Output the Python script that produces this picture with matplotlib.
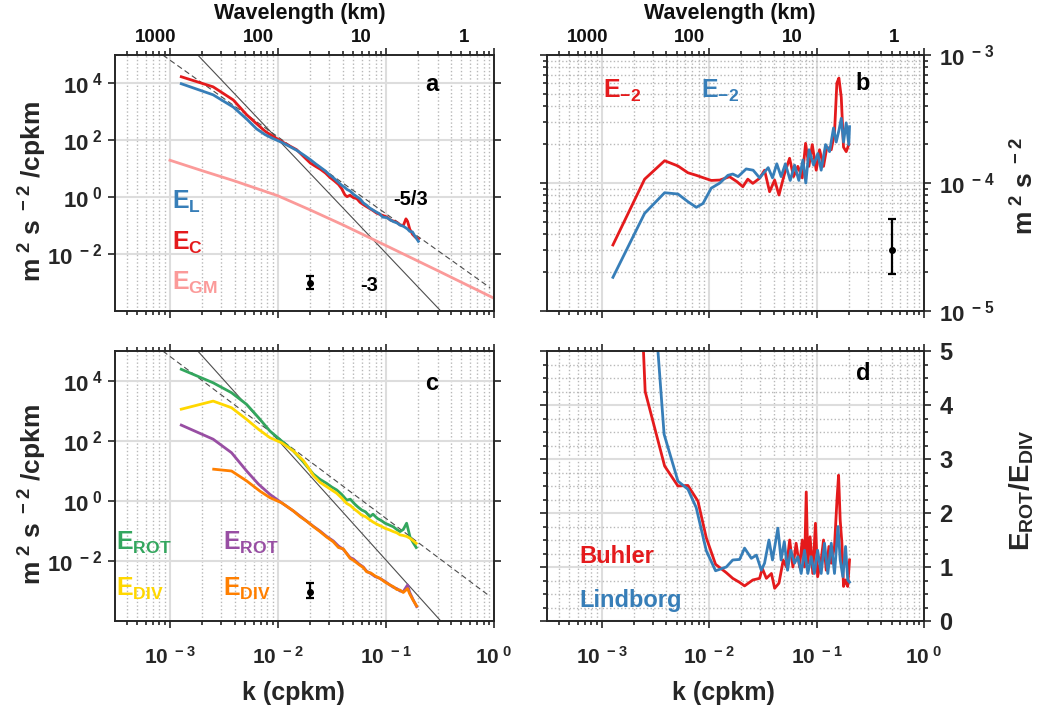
import numpy as np
import matplotlib
matplotlib.use('Agg')
import matplotlib.pyplot as plt
from matplotlib.ticker import FixedLocator, LogLocator, MultipleLocator, NullFormatter, NullLocator, FuncFormatter
from matplotlib.transforms import blended_transform_factory, offset_copy

plt.rcParams['font.family'] = ['Liberation Sans', 'DejaVu Sans']
plt.rcParams['font.weight'] = 'bold'
plt.rcParams['mathtext.fontset'] = 'dejavusans'
plt.rcParams['mathtext.default'] = 'regular'

RED = '#e41a1c'
BLUE = '#377eb8'
PINK = '#fb9a99'
GREEN = '#33a65e'
YELLOW = '#ffd700'
PURPLE = '#984ea3'
ORANGE = '#ff7f00'
REFC = '#4d4d4d'

# ---- panel a: spectra, log10 k (cpkm) and log10 E (m^2 s^-2 / cpkm) ----
a_logk = [-2.895, -2.60, -2.414, -2.29, -2.197, -2.119, -2.05, -1.966, -1.90, -1.827,
          -1.76, -1.70, -1.65, -1.61, -1.56, -1.52, -1.48, -1.44, -1.41, -1.38,
          -1.36, -1.333, -1.30, -1.27, -1.24, -1.21, -1.18, -1.15, -1.12, -1.09,
          -1.06, -1.03, -0.99, -0.96, -0.93, -0.90, -0.87, -0.84, -0.815, -0.80,
          -0.78, -0.755, -0.73, -0.70]
ec_log = [4.235, 3.88, 3.42, 2.90, 2.58, 2.32, 2.15, 1.96, 1.82, 1.67,
          1.42, 1.20, 1.08, 0.99, 0.85, 0.70, 0.58, 0.45, 0.30, 0.08,
          0.02, 0.07, -0.02, -0.05, -0.18, -0.26, -0.33, -0.40, -0.47, -0.55,
          -0.60, -0.64, -0.70, -0.80, -0.84, -0.88, -0.97, -1.00, -0.76, -0.85,
          -1.12, -1.30, -1.40, -1.47]
el_log = [3.99, 3.60, 3.17, 2.75, 2.40, 2.20, 2.07, 1.93, 1.80, 1.65,
          1.48, 1.32, 1.17, 1.06, 0.92, 0.78, 0.66, 0.52, 0.42, 0.34,
          0.27, 0.22, 0.10, 0.02, -0.06, -0.20, -0.28, -0.38, -0.45, -0.52,
          -0.58, -0.70, -0.72, -0.80, -0.86, -0.90, -0.98, -1.02, -1.08, -1.12,
          -1.20, -1.22, -1.38, -1.55]
gm_logk = [-3.0, -2.7, -2.4, -2.0, -1.7, -1.4, -1.0, -0.5, 0.01]
gm_log = [1.30, 0.93, 0.57, 0.05, -0.45, -0.97, -1.70, -2.62, -3.57]

# reference power laws as drawn (slope in log-log, anchor log10 E at k = 1e-2)
dash_slope, dash_anchor, dash_krange = -2.7, 2.12, (8.6e-4, 0.92)
solid_slope, solid_anchor = -4.0, 2.03

# ---- panel c ----
c_logk = [-2.895, -2.60, -2.43, -2.29, -2.18, -2.074, -1.966, -1.858, -1.765, -1.72,
          -1.673, -1.61, -1.55, -1.50, -1.457, -1.41, -1.364, -1.33, -1.29, -1.26,
          -1.225, -1.19, -1.148, -1.12, -1.08, -1.04, -1.009, -0.97, -0.932, -0.90,
          -0.87, -0.84, -0.809, -0.778, -0.75, -0.72]
rot_log = [4.39, 3.94, 3.61, 3.22, 2.78, 2.33, 2.0, 1.67, 1.30, 1.10,
           0.90, 0.72, 0.59, 0.46, 0.37, 0.22, 0.03, 0.06, -0.10, -0.20,
           -0.30, -0.36, -0.52, -0.44, -0.58, -0.66, -0.74, -0.80, -0.86, -0.95,
           -1.02, -0.95, -0.74, -1.19, -1.38, -1.55]
div_log = [3.06, 3.33, 3.11, 2.72, 2.39, 2.11, 1.94, 1.67, 1.35, 1.12,
           0.85, 0.62, 0.48, 0.36, 0.26, 0.10, -0.08, -0.15, -0.28, -0.36,
           -0.47, -0.52, -0.63, -0.70, -0.78, -0.85, -0.91, -0.96, -1.02, -1.06,
           -1.13, -1.15, -1.18, -1.24, -1.32, -1.41]
rot2_logk = [-2.895, -2.60, -2.43, -2.29, -2.18, -2.074, -1.966, -1.858, -1.796, -1.735,
             -1.67, -1.611, -1.55, -1.488, -1.44, -1.395, -1.333, -1.30, -1.25, -1.21,
             -1.179, -1.14, -1.10, -1.056, -1.01, -0.963, -0.93, -0.90, -0.87, -0.84,
             -0.80, -0.78, -0.75, -0.716]
rot2_log = [2.53, 2.06, 1.61, 1.0, 0.56, 0.22, -0.06, -0.33, -0.50, -0.67,
            -0.85, -1.0, -1.18, -1.33, -1.50, -1.61, -1.88, -1.94, -2.10, -2.20,
            -2.34, -2.42, -2.52, -2.58, -2.68, -2.80, -2.88, -2.92, -3.0, -3.02,
            -2.80, -3.05, -3.28, -3.52]
div2_logk = [-2.595, -2.43, -2.29, -2.167, -2.074, -1.966, -1.858, -1.796, -1.735, -1.67,
             -1.611, -1.55, -1.488, -1.44, -1.395, -1.333, -1.30, -1.25, -1.21, -1.179,
             -1.14, -1.10, -1.056, -1.01, -0.963, -0.93, -0.90, -0.87, -0.84, -0.80,
             -0.78, -0.75, -0.716]
div2_log = [1.06, 1.0, 0.67, 0.33, 0.11, -0.06, -0.33, -0.52, -0.67, -0.86,
            -1.02, -1.20, -1.36, -1.55, -1.60, -1.91, -1.98, -2.12, -2.22, -2.36,
            -2.40, -2.50, -2.58, -2.70, -2.80, -2.86, -2.95, -2.97, -3.05, -2.92,
            -3.10, -3.30, -3.50]

# ---- panel b: compensated spectra, log10 (m^2 s^-2) ----
bc_logk = [-2.895, -2.60, -2.414, -2.29, -2.197, -2.119, -2.05, -1.98, -1.90, -1.81,
           -1.74, -1.686, -1.64, -1.593, -1.53, -1.484, -1.437, -1.39, -1.35, -1.297,
           -1.251, -1.214, -1.174, -1.133, -1.102, -1.071, -1.04, -1.003, -0.972, -0.935,
           -0.904, -0.863, -0.833, -0.811, -0.792, -0.77, -0.749, -0.724, -0.70]
bc_log = [-4.484, -3.97, -3.826, -3.867, -3.92, -3.94, -3.96, -3.98, -3.977, -3.951,
          -3.99, -4.029, -3.97, -4.003, -3.963, -3.90, -4.068, -3.977, -4.094, -3.924,
          -3.807, -3.95, -3.87, -3.96, -3.69, -3.87, -3.70, -3.90, -3.74, -3.87,
          -3.72, -3.74, -3.61, -3.22, -3.18, -3.33, -3.72, -3.755, -3.70]
bl_logk = [-2.895, -2.60, -2.414, -2.29, -2.197, -2.119, -2.057, -1.98, -1.90, -1.825,
           -1.78, -1.73, -1.655, -1.59, -1.53, -1.45, -1.41, -1.37, -1.33, -1.29,
           -1.245, -1.205, -1.165, -1.127, -1.10, -1.07, -1.028, -0.988, -0.957, -0.916,
           -0.879, -0.842, -0.817, -0.792, -0.77, -0.749, -0.724, -0.70, -0.693]
bl_log = [-4.737, -4.237, -4.076, -4.086, -4.146, -4.19, -4.16, -4.04, -4.0, -3.94,
          -3.93, -3.95, -3.89, -3.90, -3.96, -3.88, -3.96, -3.85, -3.95, -3.85,
          -3.98, -3.86, -3.98, -3.82, -4.0, -3.74, -3.86, -3.77, -3.90, -3.70,
          -3.755, -3.57, -3.68, -3.59, -3.495, -3.68, -3.53, -3.70, -3.56]

# ---- panel d: E_ROT / E_DIV ----
dbu_logk = [-2.895, -2.595, -2.414, -2.29, -2.197, -2.104, -2.026, -1.94, -1.84, -1.78,
            -1.72, -1.67, -1.593, -1.53, -1.505, -1.467, -1.42, -1.39, -1.35, -1.31,
            -1.28, -1.25, -1.22, -1.19, -1.158, -1.133, -1.112, -1.096, -1.081, -1.06,
            -1.035, -1.01, -0.99, -0.957, -0.935, -0.91, -0.885, -0.863, -0.833, -0.81,
            -0.795, -0.78, -0.764, -0.749, -0.73, -0.71, -0.693]
dbu_ratio = [18.4, 4.25, 2.87, 2.50, 2.51, 2.22, 1.54, 1.05, 0.895, 0.79,
             0.72, 0.65, 0.76, 0.79, 0.975, 0.79, 0.88, 0.605, 0.70, 1.13,
             1.0, 1.50, 1.0, 1.44, 1.0, 1.5, 1.0, 2.39, 1.07, 1.56,
             0.88, 1.81, 0.82, 1.13, 1.50, 0.94, 1.38, 1.07, 1.38, 2.24,
             2.70, 1.87, 1.44, 0.64, 0.76, 0.64, 1.13]
dli_logk = [-2.895, -2.595, -2.419, -2.29, -2.197, -2.12, -2.026, -1.94, -1.84, -1.78,
            -1.716, -1.67, -1.607, -1.56, -1.514, -1.484, -1.443, -1.41, -1.36, -1.33,
            -1.30, -1.27, -1.24, -1.205, -1.174, -1.143, -1.112, -1.081, -1.05, -1.02,
            -0.99, -0.957, -0.926, -0.895, -0.863, -0.833, -0.80, -0.78, -0.755, -0.73,
            -0.71, -0.693]
dli_ratio = [20.0, 8.2, 3.46, 2.59, 2.44, 2.10, 1.30, 0.93, 1.0, 1.13,
             1.14, 1.35, 1.16, 1.22, 0.94, 1.07, 1.50, 1.13, 1.72, 1.13,
             1.47, 0.94, 1.31, 1.07, 1.19, 0.88, 1.31, 0.88, 1.19, 0.88,
             1.31, 0.88, 1.44, 0.88, 1.44, 0.88, 1.75, 1.13, 0.82, 1.38,
             0.76, 0.72]

# error bars: k, centre, low, high
err_a = (0.02, 1.0e-3, 10**-3.24, 10**-2.78)
err_c = (0.02, 10**-3.02, 10**-3.24, 10**-2.74)
err_b = (0.5, 3.0e-5, 1.93e-5, 5.2e-5)

wavelengths = [1000, 100, 10, 1]

for x, y in [(a_logk, ec_log), (a_logk, el_log), (gm_logk, gm_log), (c_logk, rot_log),
             (c_logk, div_log), (rot2_logk, rot2_log), (div2_logk, div2_log),
             (bc_logk, bc_log), (bl_logk, bl_log), (dbu_logk, dbu_ratio), (dli_logk, dli_ratio)]:
    assert len(x) == len(y)


def p10(v):
    return 10.0 ** np.asarray(v)


def pow10(v, pos):
    return r'10$^{\;%d}$' % int(round(np.log10(v)))


def base_style(ax):
    ax.set_xscale('log')
    ax.set_xlim(3.1e-4, 1)
    ax.xaxis.set_major_locator(FixedLocator([1e-3, 1e-2, 1e-1, 1]))
    ax.xaxis.set_minor_locator(LogLocator(base=10, subs=np.arange(2, 10), numticks=20))
    ax.xaxis.set_minor_formatter(NullFormatter())
    ax.xaxis.set_major_formatter(FuncFormatter(pow10))
    ax.tick_params(which='both', direction='out', top=True, bottom=True, left=True, right=True,
                   color='#262626', width=1.2, labelsize=16, labelcolor='#262626')
    ax.tick_params(which='major', length=5)
    ax.tick_params(which='minor', length=3)
    ax.tick_params(axis='x', pad=13, labelsize=15)
    ax.grid(True, which='major', color='#dddddd', lw=1.5)
    ax.grid(True, which='minor', axis='x', color='#b8b8b8', ls=':', lw=1.0)
    ax.set_axisbelow(True)
    for s in ax.spines.values():
        s.set_color('#262626')
        s.set_linewidth(1.4)


def spectrum_style(ax):
    base_style(ax)
    ax.set_yscale('log')
    ax.set_ylim(1e-4, 1e5)
    ax.yaxis.set_major_locator(FixedLocator([1e-2, 1, 1e2, 1e4]))
    ax.yaxis.set_minor_locator(NullLocator())
    ax.yaxis.set_major_formatter(FuncFormatter(pow10))
    ax.tick_params(axis='y', pad=4)


def wavelength_labels(ax):
    tr = blended_transform_factory(ax.transData, ax.transAxes)
    tr = offset_copy(tr, fig=fig, x=-35, y=9, units='dots')
    for lam in wavelengths:
        ax.text(1.0 / lam, 1.0, str(lam), transform=tr, ha='left', va='bottom',
                fontsize=13.5, color='#111111')


def ref_lines(ax):
    kk = np.array(dash_krange)
    ax.plot(kk, p10(dash_anchor + dash_slope * (np.log10(kk) + 2)), ls=(0, (5, 3)),
            color=REFC, lw=0.8)
    ks = np.array([1e-3, 1.0])
    ax.plot(ks, p10(solid_anchor + solid_slope * (np.log10(ks) + 2)), color=REFC, lw=0.8)


def errbar(ax, e):
    k, c, lo, hi = e
    ax.errorbar([k], [c], yerr=[[c - lo], [hi - c]], fmt='o', color='black', ms=4,
                capsize=3, elinewidth=1.6, capthick=1.6)


fig = plt.figure(figsize=(10.45, 7.14), dpi=100)
W, H = 1045.0, 714.0


def axes_px(x0, y0, x1, y1):
    return fig.add_axes([x0 / W, 1 - y1 / H, (x1 - x0) / W, (y1 - y0) / H])


axA = axes_px(115, 55, 494, 311)
axB = axes_px(547, 55, 924, 311)
axC = axes_px(115, 351, 494, 621)
axD = axes_px(547, 351, 924, 621)

# ---- a ----
spectrum_style(axA)
axA.tick_params(labelbottom=False)
ref_lines(axA)
axA.plot(p10(gm_logk), p10(gm_log), color=PINK, lw=2)
axA.plot(p10(a_logk), p10(ec_log), color=RED, lw=2)
axA.plot(p10(a_logk), p10(el_log), color=BLUE, lw=2)
errbar(axA, err_a)
wavelength_labels(axA)
axA.text(0.267, 10**3.96, 'a', fontsize=17, ha='center', va='center')
axA.text(0.116, 10**-0.09, '-5/3', fontsize=14.5, ha='left', va='center')
axA.text(0.0575, 10**-3.09, '-3', fontsize=14.5, ha='left', va='center')
axA.text(1.05e-3, 10**-0.42, r'E$_{L}$', color=BLUE, fontsize=18, va='baseline')
axA.text(1.05e-3, 10**-1.835, r'E$_{C}$', color=RED, fontsize=18, va='baseline')
axA.text(1.05e-3, 10**-3.25, r'E$_{GM}$', color=PINK, fontsize=18, va='baseline')

# ---- b ----
base_style(axB)
axB.set_yscale('log')
axB.set_ylim(1e-5, 1e-3)
axB.yaxis.set_major_locator(FixedLocator([1e-5, 1e-4, 1e-3]))
axB.yaxis.set_minor_locator(LogLocator(base=10, subs=np.arange(2, 10), numticks=20))
axB.yaxis.set_minor_formatter(NullFormatter())
axB.yaxis.set_major_formatter(FuncFormatter(pow10))
axB.grid(True, which='minor', axis='y', color='#b8b8b8', ls=':', lw=1.0)
axB.tick_params(labelbottom=False, labelleft=False, labelright=True)
axB.tick_params(axis='y', pad=6)
axB.plot(p10(bc_logk), p10(bc_log), color=RED, lw=2)
axB.plot(p10(bl_logk), p10(bl_log), color=BLUE, lw=2)
errbar(axB, err_b)
wavelength_labels(axB)
axB.text(0.27, 10**-3.22, 'b', fontsize=17, ha='center', va='center')
axB.text(1.02e-3, 10**-3.334, r'E$_{-2}$', color=RED, fontsize=18, va='baseline')
axB.text(8.45e-3, 10**-3.334, r'E$_{-2}$', color=BLUE, fontsize=18, va='baseline')

# ---- c ----
spectrum_style(axC)
ref_lines(axC)
axC.plot(p10(c_logk), p10(rot_log), color=GREEN, lw=2)
axC.plot(p10(c_logk), p10(div_log), color=YELLOW, lw=2)
axC.plot(p10(rot2_logk), p10(rot2_log), color=PURPLE, lw=2)
axC.plot(p10(div2_logk), p10(div2_log), color=ORANGE, lw=2)
errbar(axC, err_c)
axC.text(0.267, 10**3.92, 'c', fontsize=17, ha='center', va='center')
axC.text(3.16e-4, 10**-1.63, r'E$_{ROT}$', color=GREEN, fontsize=18, va='baseline')
axC.text(3.16e-4, 10**-3.17, r'E$_{DIV}$', color=YELLOW, fontsize=18, va='baseline')
axC.text(3.08e-3, 10**-1.63, r'E$_{ROT}$', color=PURPLE, fontsize=18, va='baseline')
axC.text(3.08e-3, 10**-3.17, r'E$_{DIV}$', color=ORANGE, fontsize=18, va='baseline')

# ---- d ----
base_style(axD)
axD.set_ylim(0, 5)
axD.yaxis.set_major_locator(MultipleLocator(1))
axD.yaxis.set_minor_locator(MultipleLocator(0.25))
axD.yaxis.set_major_formatter(FuncFormatter(lambda v, p: '%d' % v))
axD.grid(True, which='minor', axis='y', color='#b8b8b8', ls=':', lw=1.0)
axD.tick_params(labelleft=False, labelright=True)
axD.tick_params(axis='y', pad=6, labelsize=17)
axD.plot(p10(dbu_logk), dbu_ratio, color=RED, lw=2)
axD.plot(p10(dli_logk), dli_ratio, color=BLUE, lw=2)
axD.text(0.27, 4.59, 'd', fontsize=17, ha='center', va='center')
axD.text(6.24e-4, 1.07, 'Buhler', color=RED, fontsize=17, va='baseline')
axD.text(6.24e-4, 0.265, 'Lindborg', color=BLUE, fontsize=17, va='baseline')

# ---- axis titles ----
ylab = r'm$^{\;2}$ s$^{\;-2}$ /cpkm'
fig.text(33 / W, 1 - 192 / H, ylab, rotation=90, ha='center', va='center', fontsize=19, color='#262626')
fig.text(33 / W, 1 - 495 / H, ylab, rotation=90, ha='center', va='center', fontsize=19, color='#262626')
fig.text(1025 / W, 1 - 186 / H, r'm$^{\;2}$ s$^{\;-2}$', rotation=90, ha='center', va='center',
         fontsize=19, color='#262626')
fig.text(1022 / W, 1 - 490 / H, r'E$_{ROT}$/E$_{DIV}$', rotation=90, ha='center', va='center',
         fontsize=20, color='#262626')
fig.text(293 / W, 1 - 693 / H, 'k (cpkm)', ha='center', va='center', fontsize=18, color='#262626')
fig.text(723 / W, 1 - 693 / H, 'k (cpkm)', ha='center', va='center', fontsize=18, color='#262626')
fig.text(300 / W, 1 - 14 / H, 'Wavelength (km)', ha='center', va='center', fontsize=15.5, color='#111111')
fig.text(730 / W, 1 - 14 / H, 'Wavelength (km)', ha='center', va='center', fontsize=15.5, color='#111111')

fig.savefig('out.png', dpi=100)
